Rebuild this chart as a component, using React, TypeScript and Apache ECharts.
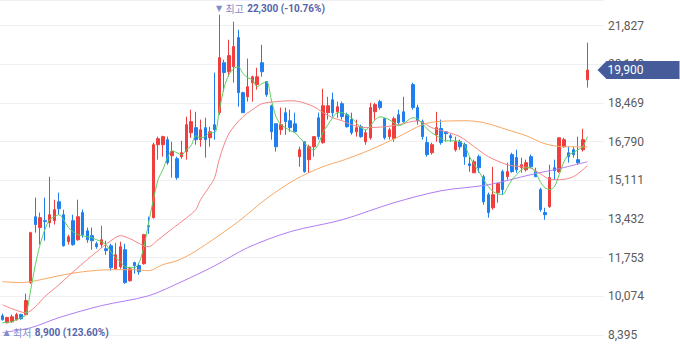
import React, { useEffect, useRef } from 'react';
import * as echarts from 'echarts';

// 125 trading days + 3 empty slots at the right edge
const categories: string[] = Array.from({ length: 128 }, (_, i) => `D${i + 1}`);

// [open, close, low, high]
const candles: (number[] | string)[] = [
  [9230, 9060, 9020, 9320], [8930, 9150, 8900, 9190], [8970, 9190, 8930, 9280], [9060, 9280, 9020, 9360],
  [9280, 9100, 9060, 9320], [9280, 9890, 9280, 10190], [10670, 12840, 10620, 12880], [13530, 13190, 12840, 14360],
  [13060, 13490, 12320, 13710], [13360, 13320, 12490, 14360], [13270, 13620, 13060, 15270], [13360, 13840, 13190, 14270],
  [14180, 13880, 13620, 14580], [13620, 12270, 12230, 13840], [12450, 12660, 12320, 12750], [13360, 12320, 12270, 13620],
  [12530, 13530, 12490, 14270], [13710, 12750, 12620, 13840], [12920, 12530, 12400, 13060], [12710, 12490, 12100, 13060],
  [12360, 12230, 12140, 12450], [12320, 12530, 12190, 13140], [12140, 12060, 11880, 12490], [12270, 11320, 11190, 12360],
  [11270, 11880, 11230, 12400], [11360, 12230, 11270, 12450], [12100, 10670, 10620, 12360], [10750, 11270, 10710, 11360],
  [11540, 11410, 11060, 11580], [11410, 11140, 11010, 11540], [11490, 12750, 11450, 12790], [13140, 13100, 12790, 13530],
  [13490, 16660, 13450, 16750], [16660, 16920, 16010, 17010], [16660, 17010, 16140, 17050], [16880, 15880, 15790, 17010],
  [16180, 16360, 15230, 16790], [16050, 15230, 15140, 16140], [16140, 16310, 16050, 16830], [16360, 17530, 16010, 17880],
  [17180, 17660, 16960, 18180], [17400, 16880, 16660, 18090], [16880, 17310, 16570, 17750], [17400, 16880, 16100, 17830],
  [16960, 17220, 16570, 17440], [17530, 17310, 16880, 19790], [18050, 20440, 17960, 22300], [20220, 19790, 18960, 20350],
  [19830, 20530, 19610, 21220], [20050, 20920, 19350, 22000], [21310, 18920, 18310, 21650], [18920, 18050, 18050, 18960],
  [18740, 19180, 18530, 20400], [19350, 19610, 18530, 19660], [19270, 19610, 19050, 20000], [20220, 19830, 19610, 21000],
  [19400, 18830, 18740, 19400], [18350, 17220, 16880, 18400], [17570, 16570, 16360, 17570], [17310, 17530, 17090, 18270],
  [18050, 17660, 17090, 18270], [17700, 17400, 17220, 18180], [17570, 17220, 17220, 18050], [16140, 16440, 15700, 16570],
  [16790, 15490, 15440, 16790], [16010, 16570, 15440, 16660], [16570, 17010, 16140, 17010], [17830, 17010, 16880, 18050],
  [16750, 18350, 16700, 19090], [18050, 18350, 17750, 18740], [18610, 18050, 17880, 18920], [18090, 18310, 17830, 18530],
  [18440, 17880, 17750, 18530], [17960, 17440, 17400, 18050], [17750, 17180, 17090, 18050], [17220, 17400, 17010, 17750],
  [17440, 17010, 16960, 17530], [16790, 17180, 16660, 17310], [16960, 18270, 16880, 18480], [18090, 18400, 17750, 18480],
  [18530, 18270, 18180, 18610], [17790, 16960, 16880, 17830], [17010, 17310, 16880, 17400], [16920, 17790, 16790, 17880],
  [17960, 17620, 17530, 18180], [18090, 17660, 17620, 18740], '-', [19270, 18270, 18180, 19350],
  [18270, 17700, 17530, 18400], [17660, 17010, 16880, 17750], [16750, 16230, 16140, 17010], [16310, 16660, 16230, 16750],
  [17090, 17400, 16790, 18090], [17360, 16750, 16660, 17750], [17220, 17140, 16790, 17220], [17050, 16960, 16790, 17140],
  [16440, 16790, 16360, 17010], [16790, 16570, 16440, 16880], [16660, 16140, 15790, 16750], [15830, 15750, 15490, 16140],
  [15440, 15920, 15440, 16010], [16140, 15660, 15440, 16230], [15270, 14180, 14050, 15360], [14490, 13710, 13490, 14580],
  [13920, 14490, 13840, 15700], [14580, 14970, 14140, 15010], [15490, 14710, 14490, 15570], [15270, 15490, 15140, 15880],
  [16230, 15490, 15440, 16310], [16100, 15570, 15440, 16440], [15660, 15790, 15440, 16100], [15570, 15880, 15490, 16010],
  [16140, 15700, 15660, 16230], [15490, 15270, 15270, 15660], [14710, 13840, 13750, 14790], [13710, 13620, 13400, 13920],
  [13970, 15230, 13920, 15790], [15660, 15530, 15140, 16010], [15490, 16960, 15440, 16960], [16570, 16880, 16530, 16960],
  [16310, 16140, 15880, 16570], [16440, 16230, 16100, 16570], [16010, 15880, 15790, 17010], [16440, 16880, 16360, 17350],
  [19480, 19900, 19140, 21090],
];

// moving averages: [dayIndex, value]
const ma5: [number, number][] = [
  [0, 8930], [1, 8950], [2, 8970], [3, 9060], [4, 9150], [5, 9280], [6, 10360], [7, 11450], [8, 12320], [9, 12970],
  [10, 13400], [11, 13530], [12, 13620], [13, 13400], [14, 13060], [15, 12880], [16, 12750], [17, 12710], [18, 12660],
  [19, 12620], [20, 12530], [21, 12450], [22, 12320], [23, 12010], [24, 11750], [25, 11580], [26, 11360], [27, 11320],
  [28, 11320], [29, 11540], [30, 12230], [31, 13270], [32, 14270], [33, 15140], [34, 15570], [35, 16100], [36, 16400],
  [37, 16310], [38, 16220], [39, 16440], [40, 16620], [41, 17050], [42, 16960], [43, 17010], [44, 17180], [45, 17180],
  [46, 18180], [47, 19140], [48, 19700], [49, 19960], [50, 20050], [51, 19750], [52, 19570], [53, 19480], [54, 19180],
  [55, 19310], [56, 19400], [57, 18610], [58, 17870], [59, 17530], [60, 17400], [61, 17270], [62, 17180], [63, 16960],
  [64, 16750], [65, 16530], [66, 16440], [67, 16700], [68, 17220], [69, 17530], [70, 17830], [71, 18050], [72, 18050],
  [73, 17960], [74, 17830], [75, 17610], [76, 17400], [77, 17310], [78, 17480], [79, 17740], [80, 17870], [81, 17830],
  [82, 17740], [83, 17610], [84, 17480], [85, 17570], [87, 17830], [88, 17790], [89, 17570], [90, 17350], [91, 17180],
  [92, 17050], [93, 16920], [94, 16830], [95, 16830], [96, 16830], [97, 16790], [98, 16620], [99, 16140], [100, 15790],
  [101, 15490], [102, 15140], [103, 14840], [104, 14620], [105, 14530], [106, 14490], [107, 14790], [108, 15140],
  [109, 15360], [110, 15570], [111, 15660], [112, 15660], [113, 15450], [114, 15050], [115, 14790], [116, 14710],
  [117, 14840], [118, 15360], [119, 15920], [120, 16220], [121, 16310], [122, 16440], [123, 16570], [124, 17010],
];
const ma20: [number, number][] = [
  [0, 9710], [2, 9540], [5, 9360], [7, 9620], [9, 10060], [12, 10580], [15, 11140], [18, 11670], [20, 12010],
  [23, 12490], [25, 12710], [27, 12580], [30, 12270], [31, 12230], [33, 12530], [36, 13010], [39, 13480], [41, 13840],
  [42, 14270], [44, 14880], [45, 15230], [46, 16050], [48, 17140], [51, 17880], [53, 18180], [55, 18440], [58, 18530],
  [61, 18570], [63, 18530], [66, 18310], [68, 18050], [70, 17830], [72, 17700], [74, 17530], [77, 17400], [81, 17440],
  [84, 17530], [88, 17700], [91, 17400], [94, 17220], [97, 17010], [100, 16570], [103, 16140], [107, 15790],
  [110, 15700], [112, 15640], [114, 15400], [116, 15160], [118, 15140], [121, 15270], [124, 15750],
];
const ma60: [number, number][] = [
  [0, 10710], [4, 10670], [7, 10750], [12, 10970], [17, 11140], [23, 11230], [28, 11230], [31, 11190], [34, 11450],
  [37, 11620], [40, 11920], [44, 12450], [50, 13320], [56, 14320], [62, 15140], [68, 15710], [72, 15970], [78, 16440],
  [84, 17010], [89, 17530], [92, 17660], [98, 17700], [102, 17620], [107, 17310], [111, 17050], [115, 16700],
  [119, 16570], [124, 16570],
];
const ma120: [number, number][] = [
  [0, 8500], [6, 8710], [12, 9150], [21, 9670], [31, 10100], [38, 10710], [45, 11400], [52, 12190], [61, 12880],
  [72, 13400], [83, 14140], [93, 14660], [103, 14920], [112, 15360], [118, 15620], [124, 15920],
];

const axisMin = 8395;
const axisStep = 1679;
const axisMax = 22944;

const fmt = (v: number) => v.toLocaleString('en-US');

export default function App() {
  const ref = useRef<HTMLDivElement>(null);
  useEffect(() => {
    const chart = echarts.init(ref.current!, undefined, { renderer: 'svg' });
    let hi = -Infinity, lo = Infinity, hiIdx = 0, loIdx = 0;
    candles.forEach((c, i) => {
      if (typeof c === 'string') return;
      if (c[3] > hi) { hi = c[3]; hiIdx = i; }
      if (c[2] < lo) { lo = c[2]; loIdx = i; }
    });
    const lastIdx = candles.length - 1;
    const lastClose = (candles[lastIdx] as number[])[1];
    const pct = (v: number) => ((lastClose - v) / v * 100).toFixed(2);
    const rich = {
      t: { fontSize: 8, color: '#7f8dc6', fontFamily: 'DejaVu Sans' },
      k: { fontSize: 10, color: '#7f8dc6', fontFamily: '"Noto Sans CJK KR"' },
      v: { fontSize: 10, color: '#5665aa', fontWeight: 'bold', fontFamily: 'Roboto' },
    };
    const red = '#f03d3d';
    const blue = '#1f7fef';
    const lineSeries = (data: [number, number][], color: string) => ({
      type: 'line', data, symbol: 'none', smooth: 0.3, connectNulls: true, silent: true,
      lineStyle: { color, width: 1 }, z: 3,
    });
    chart.setOption({
      animation: false,
      backgroundColor: '#ffffff',
      grid: { left: 0, right: 76, top: 0, bottom: 23, outerBoundsMode: 'none' },
      xAxis: { type: 'category', data: categories, show: false, boundaryGap: true },
      yAxis: {
        type: 'value', position: 'right', min: axisMin, max: axisMax, interval: axisStep,
        axisLine: { show: false }, axisTick: { show: false },
        axisLabel: {
          color: '#5a5a5a', fontSize: 12, fontFamily: 'Roboto', margin: 4, showMaxLabel: false,
          formatter: (v: number) => fmt(v),
        },
        splitLine: { lineStyle: { color: '#eef0f6', width: 1 } },
      },
      series: [
        {
          type: 'candlestick', data: candles, barWidth: 3,
          itemStyle: { color: red, color0: blue, borderColor: red, borderColor0: blue, borderWidth: 1 },
          markPoint: {
            silent: true,
            data: [
              {
                name: 'high', coord: [categories[hiIdx], hi], value: hi, symbol: 'circle', symbolSize: 1,
                itemStyle: { color: 'rgba(0,0,0,0)' },
                label: {
                  show: true, position: [-3, -6], align: 'left', verticalAlign: 'middle', rich,
                  formatter: `{t|▼} {k|최고} {v|${fmt(hi)} (${pct(hi)}%)}`,
                },
              },
              {
                name: 'low', coord: [categories[loIdx], lo], value: lo, symbol: 'circle', symbolSize: 1,
                itemStyle: { color: 'rgba(0,0,0,0)' },
                label: {
                  show: true, position: [-3, 10], align: 'left', verticalAlign: 'middle', rich,
                  formatter: `{t|▲} {k|최저} {v|${fmt(lo)} (${pct(lo)}%)}`,
                },
              },
              {
                name: 'last', coord: [categories[lastIdx], lastClose], value: lastClose,
                symbol: 'path://M0,9L9,0L82,0L82,18L9,18Z', symbolSize: [82, 18], symbolOffset: [51, 0],
                itemStyle: { color: '#455b9a' },
                label: {
                  show: true, position: [10, 9], align: 'left', verticalAlign: 'middle',
                  color: '#ffffff', fontSize: 12, fontFamily: 'Roboto', formatter: fmt(lastClose),
                },
              },
            ],
          },
        },
        lineSeries(ma120, '#b07df3'),
        lineSeries(ma60, '#f8a863'),
        lineSeries(ma20, '#f68585'),
        lineSeries(ma5, '#5ccf5c'),
      ],
    });
    return () => chart.dispose();
  }, []);
  return <div ref={ref} style={{ position: 'fixed', left: 0, top: 0, width: 680, height: 358 }} />;
}
